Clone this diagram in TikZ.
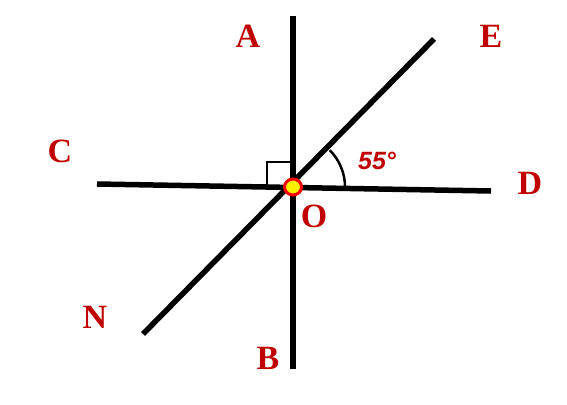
\documentclass[tikz,border=0pt]{standalone}
\usepackage{fontspec}
\setmainfont{Liberation Serif}
\setsansfont{Liberation Sans}
\definecolor{lbl}{HTML}{C00000}
\begin{document}
\begin{tikzpicture}[x=1pt,y=-1pt,
  ln/.style={line width=5.5pt,black},
  thin/.style={line width=2.5pt,black},
  lab/.style={text=lbl,font=\fontsize{34}{34}\selectfont\bfseries,inner sep=0pt}]
\useasboundingbox (0,0) rectangle (567,404);
\coordinate (O) at (293,187);
\coordinate (Atop) at (293,16);
\coordinate (Bbot) at (293,369);
\coordinate (Cend) at (97,184);
\coordinate (Dend) at (491,191);
\coordinate (Eend) at (434,39);
\coordinate (Nend) at (143,334);
\draw[ln] (Atop) -- (Bbot);
\draw[ln] (Cend) -- (Dend);
\draw[ln] (Nend) -- (Eend);
\draw[thin] (267,185) -- (267,162) -- (292,162);
\draw[thin] (O) ++(-45:52) arc[start angle=-45,end angle=0,radius=52];
\draw[line width=3pt,draw=red,fill=yellow] (O) ellipse[x radius=8.5,y radius=8];
\node[lab] (A) at (248,36) {A};
\node[lab] (E) at (491,36) {E};
\node[lab] (C) at (60,151) {C};
\node[lab] (D) at (530,183) {D};
\node[lab] (Ol) at (314,216) {O};
\node[lab] (N) at (95,317) {N};
\node[lab] (B) at (268,358) {B};
\node[text=lbl,font=\fontsize{25}{25}\selectfont\sffamily\bfseries\itshape,inner sep=0pt] (ang) at (377,161) {55°};
\end{tikzpicture}
\end{document}
